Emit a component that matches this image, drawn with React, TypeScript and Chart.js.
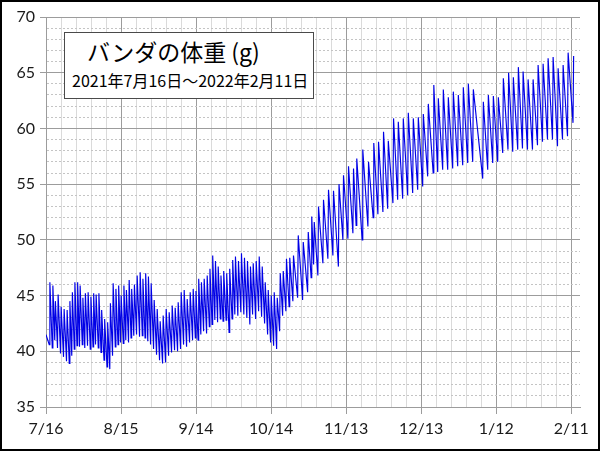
import { useEffect, useRef } from "react";
import { Chart, registerables } from "chart.js";

Chart.register(...registerables);

// Each feeding: [days since 2021-07-16, weight before feeding (g), weight after feeding (g)]
type Feed = [number, number, number];

const firstWeight = 41.5;

const feedsJulAug: Feed[] = [
  [1.3, 40.6, 46.2], [2.5, 40.3, 45.9], [3.5, 41.0, 44.5], [4.6, 40.3, 45.1],
  [5.8, 39.8, 44.0], [7.0, 39.5, 43.8], [8.2, 39.1, 43.7], [9.3, 38.9, 44.5],
  [10.3, 39.6, 45.3], [11.3, 40.2, 46.2], [12.4, 40.5, 46.2], [13.4, 40.4, 45.9],
  [14.5, 40.6, 44.8], [15.5, 40.3, 45.2], [16.6, 40.5, 45.3], [17.7, 40.2, 44.9],
  [18.8, 40.4, 45.2], [19.8, 40.6, 45.1], [20.9, 40.3, 45.2], [22.0, 39.9, 43.7],
  [23.2, 39.2, 42.9], [24.4, 38.6, 42.6], [25.5, 38.4, 44.3], [26.6, 39.6, 46.1],
  [27.7, 40.4, 45.6], [28.8, 40.6, 45.9], [29.8, 40.8, 45.0],
];

const feedsAugSep: Feed[] = [
  [30.9, 40.7, 45.9], [31.9, 41.0, 45.5], [33.0, 40.8, 46.4], [34.0, 41.2, 45.6],
  [35.1, 41.4, 46.0], [36.2, 41.5, 46.8], [37.4, 41.3, 47.1], [38.5, 41.4, 46.5],
  [39.6, 41.2, 47.0], [40.7, 40.9, 46.7], [41.8, 40.6, 46.1], [43.0, 40.2, 44.6],
  [44.2, 39.7, 43.8], [45.4, 39.2, 42.7], [46.6, 38.9, 43.2], [47.8, 39.0, 43.8],
  [49.0, 39.6, 43.5], [50.2, 39.9, 44.1], [51.4, 40.1, 43.9], [52.6, 40.0, 44.4],
  [53.8, 40.2, 45.3], [55.0, 40.6, 45.5], [56.2, 40.4, 44.7], [57.4, 40.8, 45.3],
  [58.6, 41.0, 45.6], [59.7, 41.2, 45.4],
];

const feedsSepOct: Feed[] = [
  [60.8, 41.0, 46.5], [61.9, 41.5, 46.2], [63.0, 41.8, 46.5], [64.2, 41.6, 46.8],
  [65.3, 42.2, 47.4], [66.4, 42.4, 48.6], [67.5, 42.8, 48.1], [68.6, 42.6, 47.6],
  [69.7, 42.9, 46.8], [70.8, 42.7, 47.2], [72.0, 42.8, 47.0], [73.2, 41.7, 47.4],
  [74.4, 42.9, 48.2], [75.5, 43.3, 48.5], [76.7, 43.2, 48.1], [77.9, 43.5, 48.8],
  [79.1, 43.3, 48.4], [80.3, 43.0, 48.1], [81.5, 42.4, 47.6], [82.6, 43.3, 47.9],
  [83.8, 42.9, 48.1], [85.0, 43.6, 48.5], [86.2, 43.1, 47.6], [87.4, 42.5, 46.2],
  [88.6, 41.5, 45.5], [89.8, 40.8, 45.0],
];

const feedsOctNov: Feed[] = [
  [91.0, 40.5, 45.3], [92.2, 40.2, 44.8], [93.4, 41.8, 47.0], [94.6, 43.2, 47.2],
  [95.9, 43.6, 48.3], [97.2, 44.0, 48.4], [98.7, 44.5, 48.6], [100.6, 44.8, 50.4],
  [102.6, 44.6, 49.8], [104.6, 45.3, 50.7], [106.0, 46.6, 52.1], [107.0, 47.8, 51.6],
  [108.7, 46.8, 53.0], [110.7, 47.9, 53.6], [112.7, 48.3, 54.5], [114.7, 48.6, 54.4],
  [116.9, 47.6, 55.0], [118.7, 50.0, 55.8],
];

const feedsNovDec: Feed[] = [
  [120.7, 50.1, 56.6], [122.7, 50.6, 56.4], [124.0, 51.3, 57.3], [126.4, 50.0, 58.1],
  [128.7, 51.2, 57.0], [130.8, 52.0, 58.7], [132.7, 52.3, 58.8], [134.7, 52.5, 59.7],
  [136.6, 52.8, 58.9], [138.7, 53.3, 60.9], [140.6, 53.6, 60.6], [142.6, 53.7, 60.9],
  [144.6, 54.0, 61.4], [146.6, 54.2, 60.9], [148.6, 54.5, 61.0],
];

const feedsDecJan: Feed[] = [
  [150.6, 54.8, 61.3], [152.6, 55.7, 62.2], [154.8, 56.0, 63.9], [156.6, 56.1, 62.7],
  [158.6, 56.3, 63.5], [160.6, 56.3, 62.8], [162.6, 56.4, 63.3], [164.6, 56.6, 63.0],
  [166.6, 56.7, 63.7], [168.6, 56.9, 64.0], [170.6, 57.0, 63.5], [174.6, 55.5, 62.4],
  [176.6, 56.3, 63.0], [178.6, 56.9, 62.9],
];

const feedsJanFeb: Feed[] = [
  [180.6, 57.0, 62.8], [182.6, 57.8, 64.5], [184.7, 58.1, 65.0], [186.6, 57.9, 64.6],
  [188.6, 58.1, 65.5], [190.5, 58.2, 65.1], [192.5, 58.1, 64.4], [194.5, 58.1, 64.4],
  [196.5, 58.5, 65.7], [198.5, 58.8, 65.8], [200.5, 59.0, 66.3], [202.5, 59.0, 66.4],
  [204.5, 58.4, 65.4], [206.5, 59.0, 65.7], [208.5, 59.3, 66.8], [210.7, 60.5, 66.5],
];

const titleText = "バンダの体重 (g)";
const subtitleText = "2021年7月16日～2022年2月11日";

const yMin = 35;
const yMax = 70;
const yMajorStep = 5;
const yMinorStep = 1;
const xMaxDay = 213.5;
const xMajorDays = 30;
const xMinorDays = 6;
const feedDuration = 0.25;

function dayLabel(v: number): string {
  const d = new Date(2021, 6, 16 + v);
  return `${d.getMonth() + 1}/${d.getDate()}`;
}

const MAJOR = "#9c9c9c";
const TICKFONT = { family: "Lato, 'Open Sans', sans-serif", size: 16 };

export default function App() {
  const ref = useRef<HTMLCanvasElement>(null);

  useEffect(() => {
    const feeds = [
      ...feedsJulAug, ...feedsAugSep, ...feedsSepOct, ...feedsOctNov,
      ...feedsNovDec, ...feedsDecJan, ...feedsJanFeb,
    ];
    const pts: { x: number; y: number }[] = [{ x: 0, y: firstWeight }];
    for (const [d, before, after] of feeds) {
      pts.push({ x: d, y: before });
      pts.push({ x: d + feedDuration, y: after });
    }

    const isXMajor = (ctx: any) => ctx.tick && Math.abs(ctx.tick.value % xMajorDays) < 1e-6;
    const isYMajor = (ctx: any) => ctx.tick && Math.abs(ctx.tick.value % yMajorStep) < 1e-6;

    const chart = new Chart(ref.current!, {
      type: "line",
      data: {
        datasets: [
          {
            data: pts,
            borderColor: "#0000e6",
            borderWidth: 1.15,
            pointRadius: 0,
            tension: 0,
            fill: false,
          },
        ],
      },
      options: {
        animation: false,
        responsive: false,
        devicePixelRatio: 1,
        plugins: { legend: { display: false }, tooltip: { enabled: false } },
        layout: { padding: { top: 15, right: 18, bottom: 0, left: 0 } },
        scales: {
          x: {
            type: "linear",
            min: 0,
            max: xMaxDay,
            afterFit: (s: any) => {
              s.height = 42;
            },
            ticks: {
              stepSize: xMinorDays,
              autoSkip: false,
              maxRotation: 0,
              minRotation: 0,
              includeBounds: false,
              padding: 5,
              color: "#1a1a1a",
              font: TICKFONT,
              callback: (v: any) => (Math.abs(Number(v) % xMajorDays) < 1e-6 ? dayLabel(Number(v)) : ""),
            },
            grid: {
              color: (ctx: any) => (isXMajor(ctx) ? MAJOR : "#dadada"),
              lineWidth: 1,
              tickLength: 7,
              tickColor: (ctx: any) => (isXMajor(ctx) ? MAJOR : "rgba(0,0,0,0)"),
            },
            border: { display: true, color: MAJOR },
          },
          y: {
            min: yMin,
            max: yMax,
            afterFit: (s: any) => {
              s.width = 44;
            },
            ticks: {
              stepSize: yMinorStep,
              autoSkip: false,
              includeBounds: false,
              padding: 5,
              color: "#1a1a1a",
              font: TICKFONT,
              callback: (v: any) => (Math.abs(Number(v) % yMajorStep) < 1e-6 ? String(v) : ""),
            },
            grid: {
              color: (ctx: any) => (isYMajor(ctx) ? MAJOR : "#c4c4c4"),
              lineWidth: 1,
              tickLength: 6,
              tickColor: (ctx: any) => (isYMajor(ctx) ? MAJOR : "rgba(0,0,0,0)"),
            },
            border: {
              display: true,
              color: MAJOR,
              dash: (ctx: any) => (ctx.tick && !isYMajor(ctx) ? [2, 2] : []),
            },
          },
        },
      },
    } as any);
    return () => chart.destroy();
  }, []);

  return (
    <div
      style={{
        position: "absolute",
        left: 0,
        top: 0,
        width: 600,
        height: 451,
        boxSizing: "border-box",
        border: "2px solid #000",
        background: "#fff",
        overflow: "hidden",
      }}
    >
      <canvas ref={ref} width={596} height={447} style={{ position: "absolute", left: 0, top: 0 }} />
      <div
        style={{
          position: "absolute",
          left: 62,
          top: 30,
          width: 250,
          height: 67,
          boxSizing: "border-box",
          border: "1.5px solid #4a4a4a",
          background: "#fff",
        }}
      />
      <div
        style={{
          position: "absolute",
          left: 85,
          top: 38,
          fontFamily: "'Noto Sans CJK JP', sans-serif",
          fontSize: 23,
          lineHeight: 1,
          color: "#000",
          whiteSpace: "nowrap",
        }}
      >
        {titleText}
      </div>
      <div
        style={{
          position: "absolute",
          left: 70,
          top: 70,
          fontFamily: "'Noto Sans CJK JP', sans-serif",
          fontSize: 16,
          lineHeight: 1,
          color: "#000",
          whiteSpace: "nowrap",
        }}
      >
        {subtitleText}
      </div>
    </div>
  );
}
